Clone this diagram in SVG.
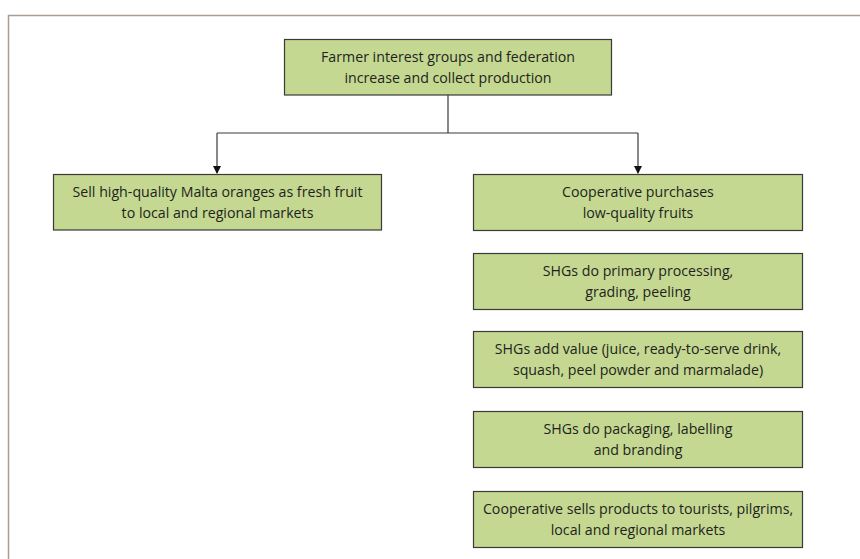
<svg xmlns="http://www.w3.org/2000/svg" width="860" height="559" viewBox="0 0 860 559">
<defs>
<style>
.box{fill:#c4d891;stroke:#3a3a3a;stroke-width:1.2}
.t{font-family:"Open Sans","Noto Sans","Liberation Sans",sans-serif;font-size:14.2px;fill:#231f20;text-anchor:middle}
.c{fill:none;stroke:#3a3a3a;stroke-width:1.2}
</style>
<marker id="ah" markerWidth="8" markerHeight="10" refX="7" refY="4" orient="auto" markerUnits="userSpaceOnUse" viewBox="0 0 8 8">
<path d="M0,0 L8,4 L0,8 Z" fill="#111"/>
</marker>
</defs>
<rect width="860" height="559" fill="#fff"/>
<path d="M8.5,559 L8.5,15.5 L860,15.5" fill="none" stroke="#a89c94" stroke-width="1.5"/>
<g id="connectors">
<path class="c" d="M448,95 L448,133"/>
<path class="c" d="M217,133 L638,133"/>
<path class="c" d="M217,133 L217,173" marker-end="url(#ah)"/>
<path class="c" d="M638,133 L638,173" marker-end="url(#ah)"/>
</g>
<g id="n1"><rect class="box" x="284.5" y="39.5" width="327" height="55.5"/>
<text class="t" x="448" y="62">Farmer interest groups and federation</text>
<text class="t" x="448" y="83">increase and collect production</text></g>
<g id="n2"><rect class="box" x="53.5" y="174.5" width="328" height="55.5"/>
<text class="t" x="217.5" y="197">Sell high-quality Malta oranges as fresh fruit</text>
<text class="t" x="217.5" y="218">to local and regional markets</text></g>
<g id="n3"><rect class="box" x="473.5" y="174.5" width="329" height="56"/>
<text class="t" x="638" y="197">Cooperative purchases</text>
<text class="t" x="638" y="218">low-quality fruits</text></g>
<g id="n4"><rect class="box" x="473.5" y="253.5" width="329" height="56"/>
<text class="t" x="638" y="276">SHGs do primary processing,</text>
<text class="t" x="638" y="297">grading, peeling</text></g>
<g id="n5"><rect class="box" x="473.5" y="331.5" width="329" height="56"/>
<text class="t" x="638" y="354">SHGs add value (juice, ready-to-serve drink,</text>
<text class="t" x="638" y="375">squash, peel powder and marmalade)</text></g>
<g id="n6"><rect class="box" x="473.5" y="411.5" width="329" height="56"/>
<text class="t" x="638" y="434">SHGs do packaging, labelling</text>
<text class="t" x="638" y="455">and branding</text></g>
<g id="n7"><rect class="box" x="473.5" y="491.5" width="329" height="56"/>
<text class="t" x="638" y="514">Cooperative sells products to tourists, pilgrims,</text>
<text class="t" x="638" y="535">local and regional markets</text></g>
</svg>
